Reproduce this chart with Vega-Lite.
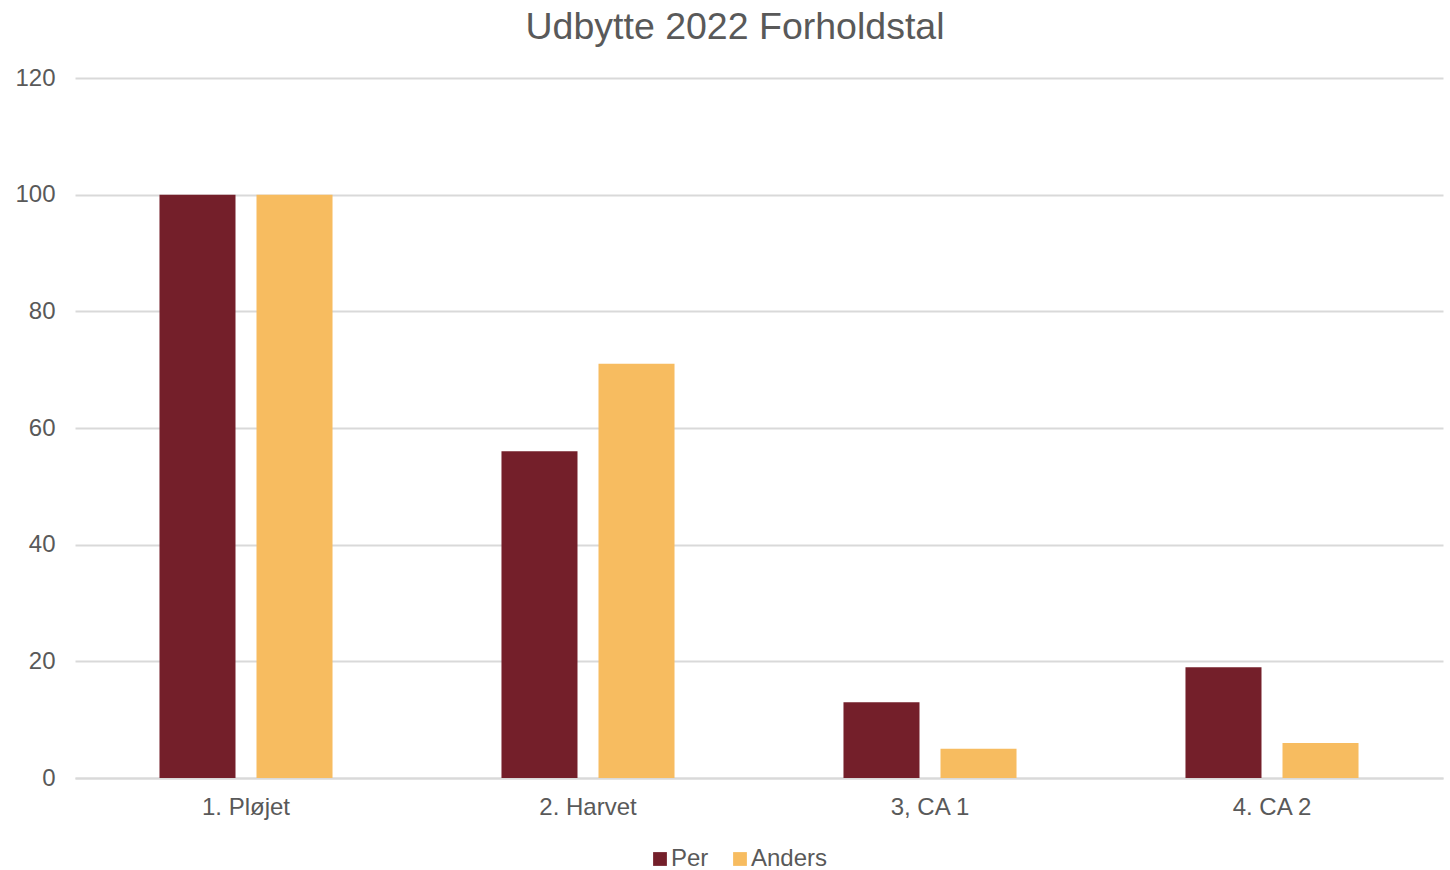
{
  "$schema": "https://vega.github.io/schema/vega-lite/v6.json",
  "autosize": {"type": "none"},
  "width": 1368,
  "height": 700,
  "padding": {"left": 75, "top": 78, "right": 7, "bottom": 92},
  "background": "white",
  "title": {
    "text": "Udbytte 2022 Forholdstal",
    "font": "Liberation Sans",
    "fontSize": 37.5,
    "fontWeight": "normal",
    "color": "#595959",
    "anchor": "middle",
    "dx": -24,
    "offset": 20
  },
  "data": {
    "values": [
      {"kategori": "1. Pløjet", "person": "Per", "vaerdi": 100},
      {"kategori": "1. Pløjet", "person": "Anders", "vaerdi": 100},
      {"kategori": "2. Harvet", "person": "Per", "vaerdi": 56},
      {"kategori": "2. Harvet", "person": "Anders", "vaerdi": 71},
      {"kategori": "3, CA 1", "person": "Per", "vaerdi": 13},
      {"kategori": "3, CA 1", "person": "Anders", "vaerdi": 5},
      {"kategori": "4. CA 2", "person": "Per", "vaerdi": 19},
      {"kategori": "4. CA 2", "person": "Anders", "vaerdi": 6}
    ]
  },
  "mark": {"type": "bar"},
  "encoding": {
    "x": {
      "field": "kategori",
      "type": "nominal",
      "sort": null,
      "title": null,
      "scale": {"paddingInner": 0.494, "paddingOuter": 0.247},
      "axis": {
        "labelAngle": 0,
        "labelFont": "Liberation Sans",
        "labelFontSize": 24,
        "labelColor": "#595959",
        "labelPadding": 17,
        "domainColor": "#D9D9D9",
        "domainWidth": 2,
        "ticks": false,
        "grid": false
      }
    },
    "xOffset": {
      "field": "person",
      "type": "nominal",
      "sort": ["Per", "Anders"],
      "scale": {"paddingInner": 0.2165, "paddingOuter": 0}
    },
    "y": {
      "field": "vaerdi",
      "type": "quantitative",
      "title": null,
      "scale": {"domain": [0, 120], "nice": false},
      "axis": {
        "values": [0, 20, 40, 60, 80, 100, 120],
        "labelFont": "Liberation Sans",
        "labelFontSize": 24,
        "labelColor": "#595959",
        "labelPadding": 20,
        "domain": false,
        "ticks": false,
        "gridColor": "#D9D9D9",
        "gridWidth": 2
      }
    },
    "color": {
      "field": "person",
      "type": "nominal",
      "sort": ["Per", "Anders"],
      "scale": {"domain": ["Per", "Anders"], "range": ["#741F2A", "#F7BC60"]},
      "legend": {
        "title": null,
        "orient": "none",
        "legendX": 573,
        "legendY": 769,
        "padding": 0,
        "direction": "horizontal",
        "symbolType": "square",
        "symbolSize": 190,
        "symbolStrokeWidth": 0,
        "symbolOpacity": 1,
        "labelFont": "Liberation Sans",
        "labelFontSize": 24,
        "labelColor": "#595959",
        "labelOffset": -1,
        "columnPadding": 19
      }
    }
  },
  "config": {"view": {"stroke": null}}
}
